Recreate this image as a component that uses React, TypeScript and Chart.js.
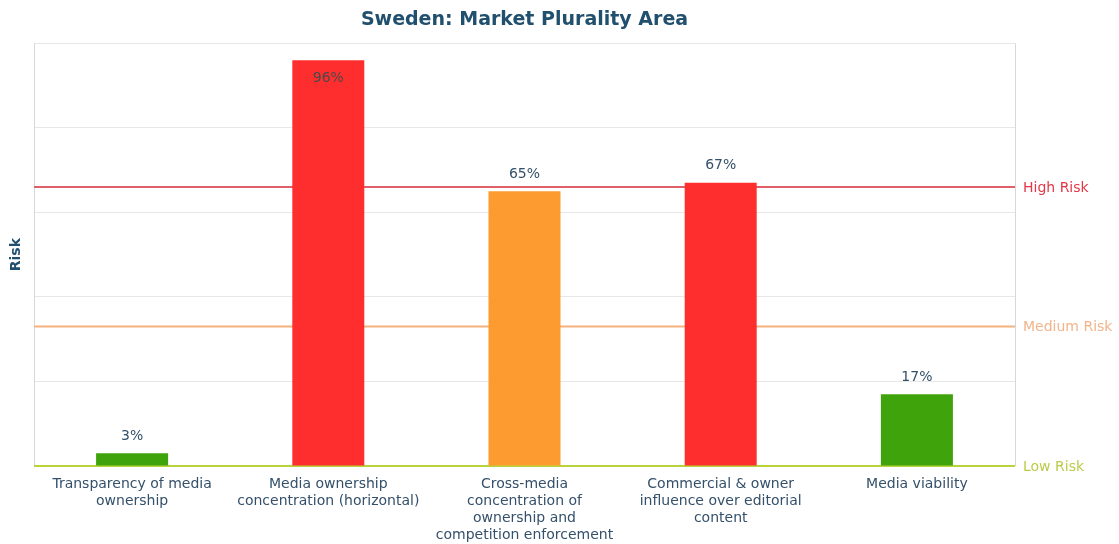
import React, { useEffect, useRef } from "react";
import { Chart, registerables } from "chart.js";

Chart.register(...registerables);

const categories: string[][] = [
  ["Transparency of media", "ownership"],
  ["Media ownership", "concentration (horizontal)"],
  ["Cross-media", "concentration of", "ownership and", "competition enforcement"],
  ["Commercial & owner", "influence over editorial", "content"],
  ["Media viability"],
];
const values = [3, 96, 65, 67, 17];
const barColors = ["#3fa30b", "#ff2e2e", "#fd9b30", "#ff2e2e", "#3fa30b"];
const riskLevels = [
  { label: "High Risk", value: 66, line: "#e0606a", text: "#e23848" },
  { label: "Medium Risk", value: 33, line: "#f5b27e", text: "#f2b48a" },
  { label: "Low Risk", value: 0, line: "#b8d43a", text: "#bccb4a" },
];
const title = "Sweden: Market Plurality Area";
const yTitle = "Risk";

const textColor = "#34506a";
const FONT = "'DejaVu Sans', sans-serif";

const overlayPlugin = {
  id: "overlay",
  beforeDatasetsDraw(chart: any) {
    const { ctx, chartArea, scales } = chart;
    const y = scales.y;
    ctx.save();
    ctx.strokeStyle = "#d3d8da";
    ctx.lineWidth = 1;
    ctx.beginPath();
    ctx.moveTo(chartArea.right + 0.5, chartArea.top);
    ctx.lineTo(chartArea.right + 0.5, chartArea.bottom);
    ctx.stroke();
    ctx.lineWidth = 2;
    riskLevels.forEach((r) => {
      const py = y.getPixelForValue(r.value);
      ctx.strokeStyle = r.line;
      ctx.beginPath();
      ctx.moveTo(chartArea.left, py);
      ctx.lineTo(chartArea.right, py);
      ctx.stroke();
      ctx.fillStyle = r.text;
      ctx.font = `14px ${FONT}`;
      ctx.textAlign = "left";
      ctx.textBaseline = "middle";
      ctx.fillText(r.label, chartArea.right + 8, py + 1);
    });
    ctx.restore();
  },
  afterDatasetsDraw(chart: any) {
    const { ctx } = chart;
    const meta = chart.getDatasetMeta(0);
    ctx.save();
    ctx.font = `14px ${FONT}`;
    ctx.textAlign = "center";
    ctx.textBaseline = "middle";
    meta.data.forEach((bar: any, i: number) => {
      const v = values[i];
      if (v > 90) {
        ctx.fillStyle = "#4a4a4a";
        ctx.fillText(`${v}%`, bar.x, bar.y + 18);
      } else {
        ctx.fillStyle = textColor;
        ctx.fillText(`${v}%`, bar.x, bar.y - 17);
      }
    });
    ctx.restore();
  },
};

export default function App() {
  const ref = useRef<HTMLCanvasElement>(null);
  useEffect(() => {
    if (!ref.current) return;
    const chart = new Chart(ref.current, {
      type: "bar",
      data: {
        labels: categories,
        datasets: [
          {
            data: values,
            backgroundColor: barColors,
            barPercentage: 0.367,
            categoryPercentage: 1,
          },
        ],
      },
      plugins: [overlayPlugin],
      options: {
        animation: false,
        responsive: true,
        maintainAspectRatio: false,
        layout: { padding: { left: 0, right: 104, top: 0, bottom: 0 } },
        plugins: {
          legend: { display: false },
          tooltip: { enabled: false },
          title: {
            display: true,
            text: title,
            fullSize: false,
            color: "#21506e",
            font: { family: FONT, size: 19, weight: "bold", lineHeight: 1.2 },
            padding: { top: 9, bottom: 11.5 },
          },
        },
        scales: {
          x: {
            grid: { display: false },
            border: { display: false },
            ticks: {
              color: textColor,
              font: { family: FONT, size: 14, lineHeight: 1.22 },
              maxRotation: 0,
              autoSkip: false,
              padding: 2,
            },
            afterFit: (s: any) => {
              s.height = 78;
            },
          },
          y: {
            min: 0,
            max: 100,
            ticks: { display: false, stepSize: 20 },
            grid: { color: "#e6e8e8", drawTicks: false },
            border: { display: true, color: "#d3d8da" },
            title: {
              display: true,
              text: yTitle,
              color: "#21506e",
              font: { family: FONT, size: 14, weight: "bold" },
              padding: { top: 8, bottom: 0 },
            },
            afterFit: (s: any) => {
              s.width = 34;
            },
          },
        },
      },
    });
    return () => chart.destroy();
  }, []);
  return (
    <div style={{ position: "fixed", left: 0, top: 0, width: 1119, height: 544, background: "#fff" }}>
      <canvas ref={ref} />
    </div>
  );
}
